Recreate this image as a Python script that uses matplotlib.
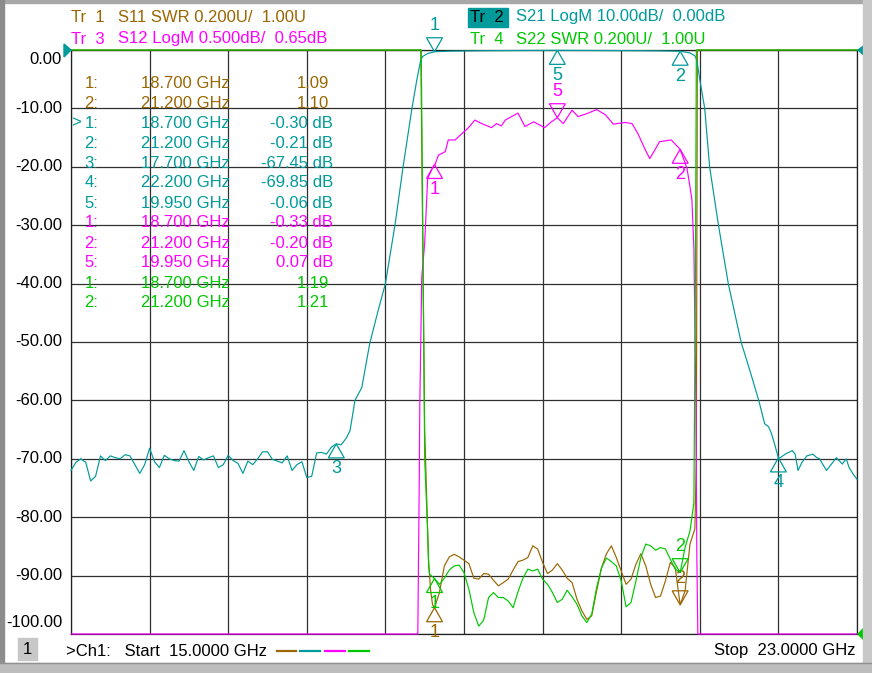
import numpy as np
import matplotlib
matplotlib.use("Agg")
from matplotlib import pyplot as plt
from matplotlib.patches import Polygon, Rectangle
import matplotlib.transforms as mtransforms

# ---------------- data ----------------
# S21 LogM, dB
s21_freq = [15.00, 15.05, 15.10, 15.15, 15.20, 15.25, 15.30, 15.35, 15.40, 15.45,
            15.50, 15.55, 15.60, 15.65, 15.70, 15.75, 15.80, 15.85, 15.90, 15.95,
            16.00, 16.05, 16.10, 16.15, 16.20, 16.25, 16.30, 16.35, 16.40, 16.45,
            16.50, 16.55, 16.60, 16.65, 16.70, 16.75, 16.80, 16.85, 16.90, 16.95,
            17.00, 17.05, 17.10, 17.15, 17.20, 17.25, 17.30, 17.35, 17.40, 17.45,
            17.50, 17.55, 17.60, 17.65, 17.70, 17.75, 17.80, 17.84, 17.89, 17.96,
            18.04, 18.12, 18.20, 18.30, 18.38, 18.47, 18.52, 18.56, 18.58, 18.63,
            18.70, 18.86, 19.20, 19.60, 19.95, 20.40, 20.80, 21.00, 21.20, 21.30,
            21.35, 21.37, 21.40, 21.45, 21.50, 21.59, 21.69, 21.82, 21.91, 22.00,
            22.06, 22.10, 22.13, 22.16, 22.20, 22.22, 22.27, 22.34, 22.37, 22.40,
            22.44, 22.49, 22.55, 22.59, 22.62, 22.65, 22.69, 22.74, 22.79, 22.85,
            22.89, 22.92, 22.96, 23.00]
s21_db = [-72.0, -70.6, -70.0, -70.6, -73.8, -73.0, -69.5, -70.3, -69.5, -69.8,
          -70.0, -69.3, -69.5, -71.0, -72.5, -71.0, -68.2, -70.5, -71.5, -69.4,
          -70.0, -70.3, -70.4, -68.6, -70.5, -72.0, -69.6, -70.2, -69.8, -69.5,
          -71.5, -71.0, -69.4, -70.3, -70.8, -72.5, -70.4, -71.0, -70.0, -68.8,
          -68.8, -70.1, -70.4, -70.7, -69.5, -72.0, -71.0, -70.5, -73.2, -73.0,
          -69.0, -68.9, -69.2, -68.0, -67.45, -67.6, -66.5, -65.2, -60.0, -57.8,
          -50.3, -45.0, -40.0, -29.7, -20.0, -10.0, -5.1, -1.7, -1.1, -0.6,
          -0.30, -0.20, -0.12, -0.08, -0.06, -0.09, -0.12, -0.15, -0.21, -0.5,
          -1.0, -1.7, -5.1, -10.0, -20.0, -30.0, -40.0, -50.0, -54.9, -60.0,
          -64.0, -64.5, -65.7, -67.4, -69.85, -69.8, -69.2, -68.6, -69.2, -72.0,
          -70.6, -69.5, -69.2, -69.8, -70.0, -70.9, -72.0, -70.9, -69.8, -70.9,
          -70.0, -71.5, -72.6, -73.5]

# S12 LogM, dB
s12_freq = [15.00, 18.53, 18.545, 18.55, 18.57, 18.60, 18.63, 18.68, 18.705, 18.74,
            18.81, 18.84, 18.91, 18.96, 19.04, 19.11, 19.18, 19.28, 19.33, 19.38,
            19.42, 19.55, 19.62, 19.71, 19.82, 19.89, 19.95, 20.01, 20.10, 20.16,
            20.25, 20.35, 20.44, 20.52, 20.64, 20.71, 20.77, 20.84, 20.89, 20.94,
            20.99, 21.11, 21.16, 21.20, 21.27, 21.30, 21.32, 21.34, 21.36, 21.37,
            21.38, 23.00]
s12_db = [-10.0, -4.6, -3.0, -2.4, -1.3, -1.0, -0.45, -0.36, -0.33, -0.25,
          -0.22, -0.12, -0.12, -0.08, -0.02, 0.05, 0.02, -0.015, 0.02, 0.0,
          0.05, 0.11, -0.005, 0.035, -0.015, 0.035, 0.07, 0.02, 0.135, 0.08,
          0.105, 0.14, 0.095, 0.015, 0.03, 0.02, -0.065, -0.195, -0.28, -0.21,
          -0.135, -0.12, -0.165, -0.20, -0.365, -0.52, -0.635, -1.05, -2.35, -3.7,
          -6.0, -10.0]

# S11 / S22 SWR, passband sweep points
pb_freq = [18.70, 18.75, 18.80, 18.85, 18.90, 18.95, 19.00, 19.05, 19.10, 19.15,
           19.20, 19.25, 19.30, 19.35, 19.40, 19.45, 19.50, 19.55, 19.60, 19.65,
           19.70, 19.75, 19.80, 19.85, 19.90, 19.95, 20.00, 20.05, 20.10, 20.15,
           20.20, 20.25, 20.30, 20.35, 20.40, 20.45, 20.50, 20.55, 20.60, 20.65,
           20.70, 20.75, 20.80, 20.85, 20.90, 20.95, 21.00, 21.05, 21.10, 21.15,
           21.20, 21.25, 21.30]
s11_pb = [1.09, 1.142, 1.233, 1.264, 1.273, 1.264, 1.253, 1.241, 1.191, 1.188,
          1.207, 1.205, 1.184, 1.165, 1.176, 1.188, 1.219, 1.248, 1.253, 1.262,
          1.302, 1.291, 1.245, 1.207, 1.219, 1.241, 1.219, 1.191, 1.176, 1.119,
          1.079, 1.050, 1.062, 1.148, 1.227, 1.275, 1.302, 1.262, 1.216, 1.170,
          1.188, 1.239, 1.275, 1.233, 1.170, 1.125, 1.130, 1.182, 1.245, 1.227,
          1.10, 1.148, 1.308]
s22_pb = [1.19, 1.170, 1.191, 1.219, 1.233, 1.236, 1.210, 1.153, 1.073, 1.027,
          1.047, 1.125, 1.142, 1.125, 1.125, 1.113, 1.090, 1.145, 1.191, 1.222,
          1.216, 1.222, 1.188, 1.170, 1.142, 1.108, 1.119, 1.150, 1.127, 1.102,
          1.062, 1.039, 1.068, 1.159, 1.227, 1.260, 1.248, 1.233, 1.182, 1.093,
          1.108, 1.182, 1.262, 1.308, 1.302, 1.287, 1.296, 1.291, 1.256, 1.222,
          1.21, 1.296, 1.353]
s11_lo_f = [15.00, 18.55, 18.56, 18.60, 18.63, 18.64, 18.66, 18.68]
s11_lo = [4.0, 4.0, 3.0, 1.7, 1.35, 1.25, 1.15, 1.10]
s11_hi_f = [21.35, 21.365, 21.375, 21.39, 23.00]
s11_hi = [1.36, 1.6, 3.2, 4.0, 4.0]
s22_lo_f = [15.00, 18.555, 18.565, 18.60, 18.63, 18.64, 18.65]
s22_lo = [4.0, 4.0, 3.0, 1.6, 1.35, 1.23, 1.205]
s22_hi_f = [21.34, 21.355, 21.365, 23.00]
s22_hi = [1.45, 2.2, 4.0, 4.0]

# markers: (number, GHz, value)
s11_markers = [(1, 18.700, 1.09), (2, 21.200, 1.10)]
s21_markers = [(1, 18.700, -0.30), (2, 21.200, -0.21), (3, 17.700, -67.45),
               (4, 22.200, -69.85), (5, 19.950, -0.06)]
s12_markers = [(1, 18.700, -0.33), (2, 21.200, -0.20), (5, 19.950, 0.07)]
s22_markers = [(1, 18.700, 1.19), (2, 21.200, 1.21)]

# ---------------- style ----------------
BROWN = "#9a6600"
TEAL = "#009a9a"
MAG = "#ff00ff"
GREEN = "#00c800"
plt.rcParams["font.family"] = ["Liberation Sans", "DejaVu Sans"]
FS = 12

W, H = 872, 673
fig = plt.figure(figsize=(W / 100, H / 100), dpi=100)


def fp(x, y):
    return (x / W, 1 - y / H)


def swr_screen(v):
    # SWR 0.200U/div, ref 1.00U at bottom line
    return np.clip(-100 + (np.asarray(v) - 1.0) / 0.2 * 10, -100, 0)


def s12_screen(v):
    # LogM 0.500dB/div, ref 0.65dB at top line
    return np.clip((np.asarray(v) - 0.65) / 0.5 * 10, -100, 0)


def s21_screen(v):
    return np.clip(np.asarray(v), -100, 0)


ax = fig.add_axes([71 / W, 1 - 634 / H, 786 / W, 584 / H])
ax.set_xlim(15, 23)
ax.set_ylim(-100, 0)
ax.set_xticks(np.linspace(15, 23, 11))
ax.set_yticks(np.arange(-100, 1, 10))
ax.grid(True, color="#303030", lw=0.9)
ax.tick_params(length=0, labelbottom=False, labelleft=False)
for sp in ax.spines.values():
    sp.set_color("#202020")
    sp.set_linewidth(0.9)

lw = 0.85
ax.plot(s11_lo_f + pb_freq + s11_hi_f, swr_screen(s11_lo + s11_pb + s11_hi),
        color=BROWN, lw=lw, clip_on=False, zorder=3)
ax.plot(s21_freq, s21_screen(s21_db), color=TEAL, lw=lw, clip_on=False, zorder=4)
ax.plot(s12_freq, s12_screen(s12_db), color=MAG, lw=lw, clip_on=False, zorder=5)
ax.plot(s22_lo_f + pb_freq + s22_hi_f, swr_screen(s22_lo + s22_pb + s22_hi),
        color=GREEN, lw=lw, clip_on=False, zorder=6)

# marker triangles, sized in screen pixels
px_x = 1 / 98.25
px_y = 10 / 58.4


def draw_marker(num, f, v, color, above):
    w = 8 * px_x
    h = 14 * px_y
    if above:
        tri = [(f, v), (f - w, v + h), (f + w, v + h)]
        ly = v + h + 12 * px_y
    else:
        tri = [(f, v), (f - w, v - h), (f + w, v - h)]
        ly = v - h - 11 * px_y
    ax.add_patch(Polygon(tri, closed=True, fill=False, ec=color, lw=0.9,
                         clip_on=False, zorder=7))
    ax.text(f, ly, str(num), color=color, fontsize=FS + 1, ha="center",
            va="center", clip_on=False, zorder=7)


for n, f, v in s11_markers:
    draw_marker(n, f, float(swr_screen(v)), BROWN, n == 2)
for n, f, v in s21_markers:
    draw_marker(n, f, float(s21_screen(v)), TEAL, n == 1)
for n, f, v in s12_markers:
    draw_marker(n, f, float(s12_screen(v)), MAG, n == 5)
for n, f, v in s22_markers:
    draw_marker(n, f, float(swr_screen(v)), GREEN, n == 2)

# y tick labels (S21 scale)
trans = mtransforms.blended_transform_factory(fig.transFigure, ax.transData)
for v in range(0, -101, -10):
    yy = v
    if v == 0:
        yy = -1.7
    elif v == -100:
        yy = -98.1
    ax.text(62 / W, yy, "%.2f" % v, transform=trans, ha="right", va="center",
            fontsize=FS, color="black")

# marker readout table
rows = []
for n, f, v in s11_markers:
    rows.append((BROWN, "%d:" % n, "%.3f GHz" % f, "%.2f" % v, False))
for n, f, v in s21_markers:
    rows.append((TEAL, "%d:" % n, "%.3f GHz" % f, "%.2f dB" % v, True))
for n, f, v in s12_markers:
    rows.append((MAG, "%d:" % n, "%.3f GHz" % f, "%.2f dB" % v, True))
for n, f, v in s22_markers:
    rows.append((GREEN, "%d:" % n, "%.3f GHz" % f, "%.2f" % v, False))

for i, (c, a, b, val, isdb) in enumerate(rows):
    y = 83 + 20 * i
    fig.text(*fp(98, y), a, color=c, fontsize=FS, ha="right", va="center")
    fig.text(*fp(230, y), b, color=c, fontsize=FS, ha="right", va="center")
    fig.text(*fp(333 if isdb else 329, y), val, color=c, fontsize=FS,
             ha="right", va="center")
    if i == 2:
        fig.text(*fp(71, y), ">", color=c, fontsize=FS, ha="left", va="center")

# header
fig.text(*fp(71, 17), "Tr  1", color=BROWN, fontsize=FS, va="center")
fig.text(*fp(118, 17), "S11 SWR 0.200U/  1.00U", color=BROWN, fontsize=FS, va="center")
fig.text(*fp(71, 39), "Tr  3", color=MAG, fontsize=FS, va="center")
fig.text(*fp(118, 39), "S12 LogM 0.500dB/  0.65dB", color=MAG, fontsize=FS, va="center")
fig.patches.append(Rectangle(fp(468, 27), 40 / W, 19 / H, transform=fig.transFigure,
                             color=TEAL, zorder=1))
fig.text(*fp(470, 17), "Tr  2", color="black", fontsize=FS, va="center", zorder=2)
fig.text(*fp(516, 17), "S21 LogM 10.00dB/  0.00dB", color=TEAL, fontsize=FS, va="center")
fig.text(*fp(470, 39), "Tr  4", color=GREEN, fontsize=FS, va="center")
fig.text(*fp(516, 39), "S22 SWR 0.200U/  1.00U", color=GREEN, fontsize=FS, va="center")

# reference-position arrows
fig.patches.append(Polygon([fp(64, 44), fp(64, 57), fp(71, 50)], closed=True,
                           transform=fig.transFigure, color=TEAL))
fig.patches.append(Polygon([fp(866, 44), fp(866, 57), fp(858, 50)], closed=True,
                           transform=fig.transFigure, color=TEAL))
fig.patches.append(Polygon([fp(864, 628), fp(864, 640), fp(858, 634)], closed=True,
                           transform=fig.transFigure, color=GREEN))

# footer
fig.patches.append(Rectangle(fp(18, 660), 19 / W, 22 / H, transform=fig.transFigure,
                             color="#c8c8c8"))
fig.text(*fp(27.5, 650), "1", fontsize=FS, ha="center", va="center")
fig.text(*fp(66, 651), ">Ch1:   Start  15.0000 GHz", fontsize=FS, va="center")
for c, x0, x1 in [(BROWN, 277, 296), (TEAL, 300, 320), (MAG, 325, 345), (GREEN, 349, 369)]:
    fig.lines.append(plt.Line2D([x0 / W, x1 / W], [1 - 651 / H] * 2,
                                transform=fig.transFigure, color=c, lw=1.6))
fig.text(*fp(855, 651), "Stop  23.0000 GHz", fontsize=FS, ha="right", va="center")

# window frame
fig.patches.append(Rectangle((0, 1 - 3 / H), 1, 3 / H, transform=fig.transFigure,
                             color="#a8a8a8"))
fig.patches.append(Rectangle((0, 0), 4 / W, 1, transform=fig.transFigure,
                             color="#8c8c8c"))
fig.patches.append(Rectangle((863 / W, 0), 9 / W, 1, transform=fig.transFigure,
                             color="#c8c8c8"))
fig.patches.append(Rectangle((0, 0), 1, 10 / H, transform=fig.transFigure,
                             color="#bdbdbd"))
fig.lines.append(plt.Line2D([0, 1], [10 / H] * 2, transform=fig.transFigure,
                            color="#909090", lw=1))

fig.savefig("out.png", dpi=100)
